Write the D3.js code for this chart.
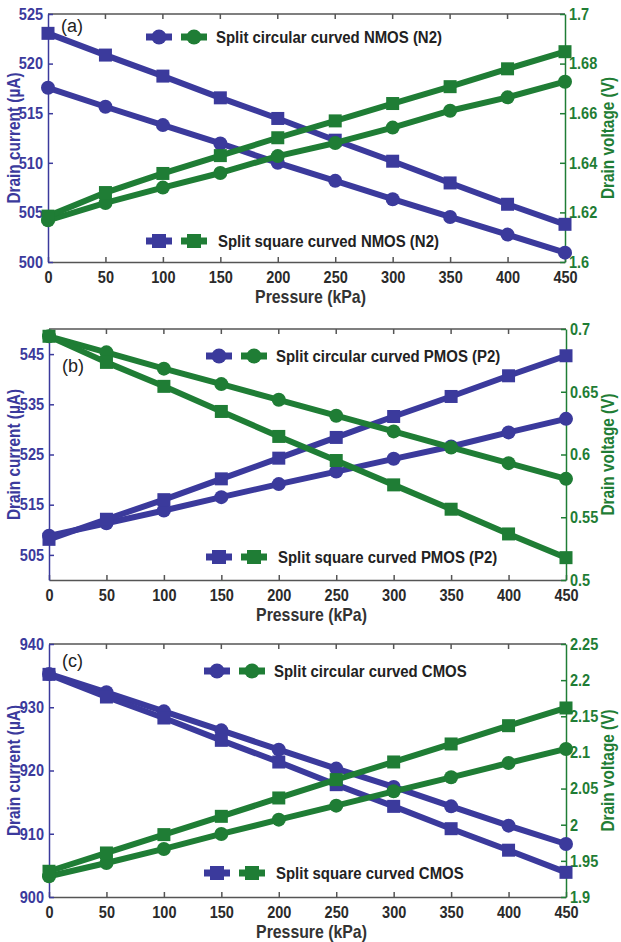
<!DOCTYPE html>
<html><head><meta charset="utf-8">
<script src="https://cdn.jsdelivr.net/npm/d3@7"></script>
<style>
body{margin:0;background:#fff;}
svg text{font-family:"Liberation Sans",Arial,sans-serif;}
.cx{transform-box:fill-box;transform-origin:center;transform:scaleX(0.88);}
.cxl{transform-box:fill-box;transform-origin:left center;transform:scaleX(0.88);}
.cxr{transform-box:fill-box;transform-origin:right center;transform:scaleX(0.88);}
</style></head>
<body><svg id="chart" width="621" height="942"></svg>
<script>
const pressure = [0,50,100,150,200,250,300,350,400,450];

// Panel (a) NMOS (N2)
const aCircCurrent = [517.56,515.65,513.8,511.95,510.0,508.18,506.33,504.54,502.76,500.94];
const aSqCurrent   = [523.05,520.86,518.74,516.55,514.47,512.28,510.16,507.97,505.82,503.8];
const aCircVoltage = [1.6168,1.6238,1.630,1.6359,1.6427,1.648,1.6542,1.661,1.6664,1.6727];
const aSqVoltage   = [1.6185,1.628,1.6357,1.6429,1.6501,1.6569,1.6639,1.6707,1.6779,1.6848];

// Panel (b) PMOS (P2)
const bCircCurrent = [508.8,511.3,513.84,516.5,519.1,521.6,524.14,526.6,529.4,532.1];
const bSqCurrent   = [508.1,512.1,516.0,520.15,524.27,528.4,532.57,536.56,540.68,544.67];
const bCircVoltage = [0.6942,0.6814,0.6684,0.6561,0.6436,0.6309,0.6184,0.6056,0.5931,0.5806];
const bSqVoltage   = [0.6942,0.6734,0.6543,0.6343,0.6144,0.5952,0.5758,0.5564,0.5367,0.5178];

// Panel (c) CMOS
const cCircCurrent = [935.26,932.36,929.35,926.35,923.3,920.3,917.4,914.33,911.28,908.38];
const cSqCurrent   = [935.2,931.62,928.3,924.77,921.34,917.76,914.33,910.8,907.4,903.9];
const cCircVoltage = [1.9287,1.9471,1.9665,1.9872,2.007,2.0264,2.0462,2.0656,2.0854,2.1048];
const cSqVoltage   = [1.9356,1.9609,1.9863,2.0116,2.037,2.0624,2.0868,2.1117,2.137,2.1615];

const xTicks = [0,50,100,150,200,250,300,350,400,450];
const aLeftTicks = [500,505,510,515,520,525];
const aRightTicks = [1.6,1.62,1.64,1.66,1.68,1.7];
const bLeftTicks = [505,515,525,535,545];
const bRightTicks = [0.5,0.55,0.6,0.65,0.7];
const cLeftTicks = [900,910,920,930,940];
const cRightTicks = [1.9,1.95,2,2.05,2.1,2.15,2.2,2.25];

const panels = [
  {label:"(a)", labelY:32, top:14, bottom:262, left:48, right:565, lDom:[500,525], rDom:[1.6,1.7],
   lTicks:aLeftTicks, rTicks:aRightTicks,
   circI:aCircCurrent, sqI:aSqCurrent, circV:aCircVoltage, sqV:aSqVoltage,
   legCirc:"Split circular curved NMOS (N2)", legSq:"Split square curved NMOS (N2)",
   legCircY:37, legSqY:241, legX:146},
  {label:"(b)", labelY:372, top:329, bottom:580, left:49, right:566, lDom:[500,550], rDom:[0.5,0.7],
   lTicks:bLeftTicks, rTicks:bRightTicks,
   circI:bCircCurrent, sqI:bSqCurrent, circV:bCircVoltage, sqV:bSqVoltage,
   legCirc:"Split circular curved PMOS (P2)", legSq:"Split square curved PMOS (P2)",
   legCircY:356, legSqY:557, legX:206},
  {label:"(c)", labelY:667, top:644, bottom:897, left:49, right:566, lDom:[900,940], rDom:[1.9,2.25],
   lTicks:cLeftTicks, rTicks:cRightTicks,
   circI:cCircCurrent, sqI:cSqCurrent, circV:cCircVoltage, sqV:cSqVoltage,
   legCirc:"Split circular curved CMOS", legSq:"Split square curved CMOS",
   legCircY:671, legSqY:873, legX:204}
];

const BLUE = "#3b3a9c", GREEN = "#1f7d35", AX = "#555";
const svg = d3.select("#chart");

panels.forEach(p => {
  const g = svg.append("g");
  const x = d3.scaleLinear().domain([0,450]).range([p.left,p.right]);
  const yl = d3.scaleLinear().domain(p.lDom).range([p.bottom,p.top]);
  const yr = d3.scaleLinear().domain(p.rDom).range([p.bottom,p.top]);

  // top frame
  g.append("line").attr("x1",p.left).attr("x2",p.right).attr("y1",p.top).attr("y2",p.top)
    .attr("stroke",AX).attr("stroke-width",1.5);
  g.selectAll(".tt").data(xTicks.slice(1,-1)).enter().append("line")
    .attr("x1",d=>x(d)).attr("x2",d=>x(d)).attr("y1",p.top).attr("y2",p.top+5)
    .attr("stroke",AX).attr("stroke-width",1.5);

  // bottom axis
  const xa = g.append("g").attr("transform",`translate(0,${p.bottom})`)
    .call(d3.axisBottom(x).tickValues(xTicks).tickSizeInner(-5).tickSizeOuter(0).tickPadding(9));
  xa.select(".domain").attr("stroke",AX).attr("stroke-width",1.5);
  xa.selectAll(".tick line").attr("stroke",AX).attr("stroke-width",1.5);
  xa.selectAll("text").attr("fill","#2a2a2a").attr("font-size",16.5).attr("font-weight","bold").attr("class","cx");

  // left axis
  const la = g.append("g").attr("transform",`translate(${p.left},0)`)
    .call(d3.axisLeft(yl).tickValues(p.lTicks).tickSizeInner(-5).tickSizeOuter(0).tickPadding(5).tickFormat(d3.format("d")));
  la.select(".domain").attr("stroke",BLUE).attr("stroke-width",1.5);
  la.selectAll(".tick line").attr("stroke",BLUE).attr("stroke-width",1.5);
  la.selectAll("text").attr("fill",BLUE).attr("font-size",16.5).attr("font-weight","bold").attr("class","cxr");

  // right axis
  const ra = g.append("g").attr("transform",`translate(${p.right},0)`)
    .call(d3.axisRight(yr).tickValues(p.rTicks).tickSizeInner(-5).tickSizeOuter(0).tickPadding(4).tickFormat(d=>String(+d.toFixed(2))));
  ra.select(".domain").attr("stroke",GREEN).attr("stroke-width",1.5);
  ra.selectAll(".tick line").attr("stroke",GREEN).attr("stroke-width",1.5);
  ra.selectAll("text").attr("fill",GREEN).attr("font-size",16.5).attr("font-weight","bold").attr("class","cxl");

  // axis titles
  g.append("text").attr("transform",`translate(20,${(p.top+p.bottom)/2}) rotate(-90) scale(0.88,1)`)
    .attr("text-anchor","middle").attr("fill",BLUE).attr("font-size",17.5).attr("font-weight","bold")
    .text("Drain current (µA)");
  g.append("text").attr("transform",`translate(614,${(p.top+p.bottom)/2}) rotate(-90) scale(0.88,1)`)
    .attr("text-anchor","middle").attr("fill",GREEN).attr("font-size",17.5).attr("font-weight","bold")
    .text("Drain voltage (V)");
  g.append("text").attr("x",(p.left+p.right)/2 + 4).attr("y",p.bottom+41)
    .attr("text-anchor","middle").attr("fill","#333").attr("font-size",18).attr("font-weight","bold")
    .attr("class","cx").text("Pressure (kPa)");
  g.append("text").attr("x",p.left+13).attr("y",p.labelY).attr("fill","#222")
    .attr("font-size",18).text(p.label);

  const series = [
    {vals:p.circI, y:yl, color:BLUE, shape:"circle"},
    {vals:p.sqI, y:yl, color:BLUE, shape:"square"},
    {vals:p.circV, y:yr, color:GREEN, shape:"circle"},
    {vals:p.sqV, y:yr, color:GREEN, shape:"square"}
  ];
  series.forEach(s => {
    const line = d3.line().x((d,i)=>x(pressure[i])).y(d=>s.y(d));
    g.append("path").datum(s.vals).attr("d",line).attr("fill","none")
      .attr("stroke",s.color).attr("stroke-width",6).attr("stroke-linejoin","round");
    const pts = g.selectAll(null).data(s.vals).enter();
    if (s.shape==="circle") {
      pts.append("circle").attr("cx",(d,i)=>x(pressure[i])).attr("cy",d=>s.y(d)).attr("r",7).attr("fill",s.color);
    } else {
      pts.append("rect").attr("x",(d,i)=>x(pressure[i])-6.5).attr("y",d=>s.y(d)-6.5)
        .attr("width",13).attr("height",13).attr("fill",s.color);
    }
  });

  // legends
  [[p.legCirc,p.legCircY,"circle"],[p.legSq,p.legSqY,"square"]].forEach(([txt,ly,shape])=>{
    [[BLUE,0],[GREEN,35]].forEach(([c,off])=>{
      const lx = p.legX+off;
      g.append("line").attr("x1",lx).attr("x2",lx+26).attr("y1",ly).attr("y2",ly)
        .attr("stroke",c).attr("stroke-width",7);
      if (shape==="circle") g.append("circle").attr("cx",lx+13).attr("cy",ly).attr("r",7.5).attr("fill",c);
      else g.append("rect").attr("x",lx+6).attr("y",ly-7).attr("width",14).attr("height",14).attr("fill",c);
    });
    g.append("text").attr("x",p.legX+(shape==="circle"?70:72)).attr("y",ly+6)
      .attr("fill","#222").attr("font-size",17).attr("font-weight","bold").attr("class","cxl").text(txt);
  });
});
</script></body></html>
